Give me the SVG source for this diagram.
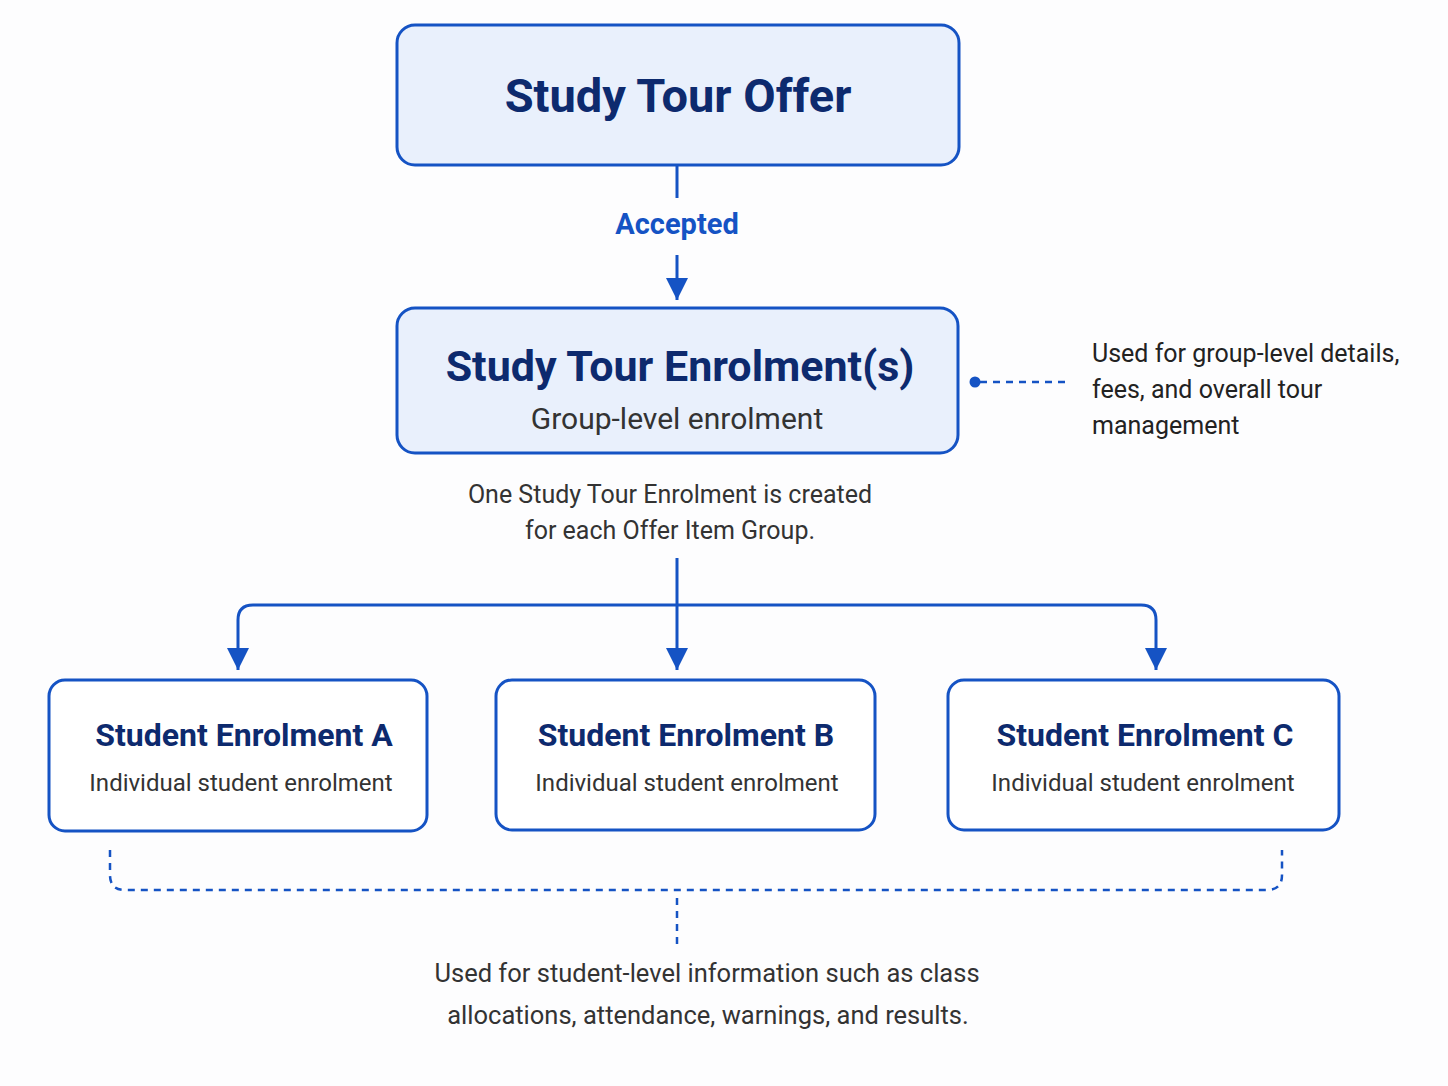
<svg xmlns="http://www.w3.org/2000/svg" width="1448" height="1086" viewBox="0 0 1448 1086">
<defs>
<marker id="arr" viewBox="0 0 10 10" refX="10" refY="5" markerWidth="22" markerHeight="22" markerUnits="userSpaceOnUse" orient="auto">
<path d="M0,0 L10,5 L0,10 z" fill="#1553c4"/>
</marker>
</defs>
<style>
.box{stroke:#1553c4;stroke-width:3}
.top{fill:#e9f0fc}
.stu{fill:#ffffff}
.line{fill:none;stroke:#1553c4;stroke-width:3}
.dash{fill:none;stroke:#1553c4;stroke-width:2.5;stroke-dasharray:7 6}
.t1{font-family:Roboto,"Liberation Sans",sans-serif;font-weight:bold;fill:#0d2a6e;text-anchor:middle}
.t2{font-family:Roboto,"Liberation Sans",sans-serif;fill:#333333;text-anchor:middle}
.note{font-family:Roboto,"Liberation Sans",sans-serif;fill:#222222;font-size:25px}
</style>
<rect width="1448" height="1086" fill="#fdfdfe"/>
<g id="connectors">
<line class="line" x1="677" y1="166" x2="677" y2="198"/>
<line class="line" x1="677" y1="255" x2="677" y2="300" marker-end="url(#arr)"/>
<line class="line" x1="677" y1="558" x2="677" y2="670" marker-end="url(#arr)"/>
<path class="line" d="M677,605 L253,605 Q238,605 238,620 L238,670" marker-end="url(#arr)"/>
<path class="line" d="M677,605 L1141,605 Q1156,605 1156,620 L1156,670" marker-end="url(#arr)"/>
<line class="dash" x1="980" y1="382" x2="1068" y2="382"/>
<circle cx="975" cy="382" r="5.5" fill="#1553c4"/>
<path class="dash" d="M110,850 L110,875 Q110,890 125,890 L1267,890 Q1282,890 1282,875 L1282,850"/>
<line class="dash" x1="677" y1="898" x2="677" y2="945"/>
<text x="677" y="234" font-family="Roboto,'Liberation Sans',sans-serif" font-weight="bold" font-size="29" fill="#1553c4" text-anchor="middle">Accepted</text>
</g>
<g id="offer">
<rect class="box top" x="397" y="25" width="562" height="140" rx="18"/>
<text class="t1" x="678" y="112" font-size="47">Study Tour Offer</text>
</g>
<g id="enrolment">
<rect class="box top" x="397" y="308" width="561" height="145" rx="18"/>
<text class="t1" x="680" y="381" font-size="43">Study Tour Enrolment(s)</text>
<text class="t2" x="677" y="429" font-size="30">Group-level enrolment</text>
</g>
<g id="enrolment-note">
<text class="t2" x="670" y="503" font-size="25" fill="#222">One Study Tour Enrolment is created</text>
<text class="t2" x="670" y="539" font-size="25" fill="#222">for each Offer Item Group.</text>
</g>
<g id="group-note">
<text class="note" x="1092" y="362">Used for group-level details,</text>
<text class="note" x="1092" y="398">fees, and overall tour</text>
<text class="note" x="1092" y="434">management</text>
</g>
<g id="student-a">
<rect class="box stu" x="49" y="680" width="378" height="151" rx="16"/>
<text class="t1" x="244" y="746" font-size="32">Student Enrolment A</text>
<text class="t2" x="241" y="791" font-size="24" fill="#222">Individual student enrolment</text>
</g>
<g id="student-b">
<rect class="box stu" x="496" y="680" width="379" height="150" rx="16"/>
<text class="t1" x="686" y="746" font-size="32">Student Enrolment B</text>
<text class="t2" x="687" y="791" font-size="24" fill="#222">Individual student enrolment</text>
</g>
<g id="student-c">
<rect class="box stu" x="948" y="680" width="391" height="150" rx="16"/>
<text class="t1" x="1145" y="746" font-size="32">Student Enrolment C</text>
<text class="t2" x="1143" y="791" font-size="24" fill="#222">Individual student enrolment</text>
</g>
<g id="student-note">
<text class="t2" x="707" y="982" font-size="25.5" fill="#222">Used for student-level information such as class</text>
<text class="t2" x="708" y="1024" font-size="25.5" fill="#222">allocations, attendance, warnings, and results.</text>
</g>
</svg>
